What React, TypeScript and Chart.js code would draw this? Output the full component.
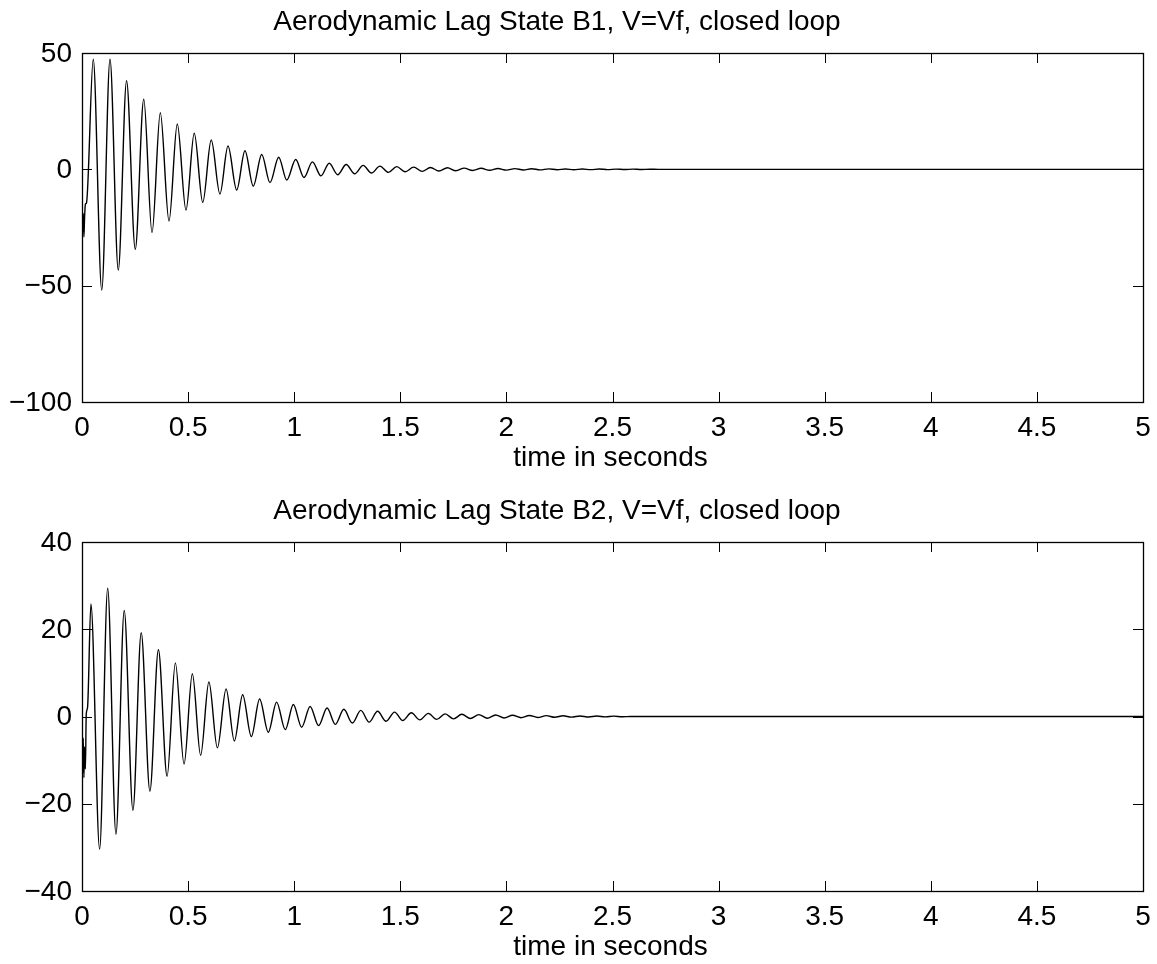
import React, { useEffect, useRef } from "react";
import { Chart, registerables } from "chart.js";

Chart.register(...registerables);

// ---------- data ----------
const xTickValues = [0, 0.5, 1, 1.5, 2, 2.5, 3, 3.5, 4, 4.5, 5];
const xTickLabels = ["0", "0.5", "1", "1.5", "2", "2.5", "3", "3.5", "4", "4.5", "5"];
const xAxisTitle = "time in seconds";

const b1Title = "Aerodynamic Lag State B1, V=Vf, closed loop";
const b1YTicks = [50, 0, -50, -100];
const b1YTickLabels = ["50", "0", "\u221250", "\u2212100"];
const b1Time = [
  0, 0.003, 0.006, 0.009, 0.012, 0.016, 0.021,
  0.053, 0.093, 0.132, 0.171, 0.21, 0.251, 0.291, 0.33, 0.369, 0.41,
  0.449, 0.49, 0.529, 0.569, 0.609, 0.65, 0.688, 0.729, 0.768, 0.807,
  0.847, 0.886, 0.927, 0.965, 1.007, 1.046, 1.086, 1.126, 1.165, 1.205,
  1.245, 1.285, 1.325, 1.364, 1.404, 1.444, 1.483, 1.523, 1.563, 1.603,
  1.642, 1.682, 1.722, 1.762, 1.801, 1.841, 1.881, 1.921, 1.96, 2.0,
  2.04, 2.08, 2.119, 2.159, 2.199, 2.239, 2.278, 2.318, 2.358, 2.398,
  2.437, 2.477, 2.517, 2.557, 2.596, 2.636, 2.676, 2.716, 5.0,
];
const b1Values = [
  -17, -27, -19, -29, -21, -15, -14.5,
  47.3, -51.9, 47.3, -43.3, 38.1, -34.4, 30.1, -27.2, 24.3, -22.2,
  19.5, -17.5, 15.5, -14.2, 12.6, -10.6, 10.0, -8.9, 8.0, -7.2,
  6.4, -5.7, 5.2, -4.6, 4.2, -3.5, 3.2, -2.8, 2.6, -2.3,
  2.1, -1.9, 1.7, -1.6, 1.4, -1.3, 1.15, -1.05, 0.95, -0.88,
  0.78, -0.72, 0.65, -0.6, 0.54, -0.5, 0.45, -0.41, 0.37, -0.34,
  0.31, -0.28, 0.26, -0.23, 0.21, -0.19, 0.17, -0.16, 0.14, -0.13,
  0.12, -0.11, 0.1, -0.09, 0.08, -0.07, 0.06, 0, 0,
];

const b2Title = "Aerodynamic Lag State B2, V=Vf, closed loop";
const b2YTicks = [40, 20, 0, -20, -40];
const b2YTickLabels = ["40", "20", "0", "\u221220", "\u221240"];
const b2Time = [
  0, 0.003, 0.006, 0.009, 0.012, 0.016, 0.02, 0.026,
  0.042, 0.083, 0.121, 0.16, 0.199, 0.24, 0.279, 0.32, 0.36, 0.401,
  0.44, 0.481, 0.52, 0.559, 0.598, 0.638, 0.679, 0.718, 0.757, 0.798,
  0.837, 0.878, 0.917, 0.958, 0.996, 1.035, 1.075, 1.115, 1.155, 1.194,
  1.234, 1.274, 1.314, 1.353, 1.393, 1.433, 1.473, 1.512, 1.552, 1.592,
  1.632, 1.671, 1.711, 1.751, 1.79, 1.83, 1.87, 1.91, 1.949, 1.989,
  2.029, 2.069, 2.108, 2.148, 2.188, 2.228, 2.267, 2.307, 2.347, 2.387,
  2.426, 2.466, 2.506, 2.546, 2.586, 5.0,
];
const b2Values = [
  -6, -13, -5, -14, -7, -12, 0.5, 2,
  25.8, -30.4, 29.4, -27.0, 24.3, -21.5, 19.2, -17.1, 15.3, -13.7,
  12.3, -10.9, 9.8, -8.9, 7.9, -7.2, 6.3, -5.6, 5.0, -4.6,
  4.0, -3.6, 3.3, -3.0, 2.75, -2.45, 2.3, -2.1, 1.95, -1.8,
  1.65, -1.5, 1.4, -1.3, 1.2, -1.1, 1.0, -0.92, 0.85, -0.78,
  0.72, -0.66, 0.6, -0.55, 0.5, -0.46, 0.42, -0.39, 0.35, -0.33,
  0.29, -0.27, 0.24, -0.22, 0.2, -0.18, 0.16, -0.15, 0.13, -0.12,
  0.1, -0.09, 0.08, -0.07, 0, 0,
];

// ---------- styling ----------
const FONT = '28px "Liberation Sans", Arial, Helvetica, sans-serif';
const TICK_LEN = 10;
const W = 1157;
const H = 482;
const TITLE_X = 557;

type PanelCfg = {
  title: string;
  time: number[];
  values: number[];
  yMin: number;
  yMax: number;
  yTicks: number[];
  yTickLabels: string[];
  padTop: number;
  padBottom: number;
};

function Panel({ cfg, top }: { cfg: PanelCfg; top: number }) {
  const ref = useRef<HTMLCanvasElement>(null);

  useEffect(() => {
    const canvas = ref.current;
    if (!canvas) return;

    const frame = {
      id: "matlabFrame",
      afterDraw(chart: any) {
        const { ctx, chartArea } = chart;
        const { left, top: t, right, bottom } = chartArea;
        const xs = chart.scales.x;
        const ys = chart.scales.y;
        ctx.save();
        ctx.strokeStyle = "#000";
        ctx.lineWidth = 1;
        ctx.beginPath();
        xTickValues.forEach((v) => {
          const px = Math.round(xs.getPixelForValue(v)) + 0.5;
          ctx.moveTo(px, bottom);
          ctx.lineTo(px, bottom - TICK_LEN);
          ctx.moveTo(px, t);
          ctx.lineTo(px, t + TICK_LEN);
        });
        cfg.yTicks.forEach((v) => {
          const py = Math.round(ys.getPixelForValue(v)) + 0.5;
          ctx.moveTo(left, py);
          ctx.lineTo(left + TICK_LEN, py);
          ctx.moveTo(right, py);
          ctx.lineTo(right - TICK_LEN, py);
        });
        ctx.stroke();
        ctx.lineWidth = 1.3;
        ctx.strokeRect(
          Math.round(left) + 0.5,
          Math.round(t) + 0.5,
          Math.round(right - left),
          Math.round(bottom - t)
        );

        ctx.fillStyle = "#000";
        ctx.font = FONT;
        ctx.textAlign = "center";
        ctx.textBaseline = "alphabetic";
        xTickValues.forEach((v, i) => {
          ctx.fillText(xTickLabels[i], xs.getPixelForValue(v), bottom + 34);
        });
        ctx.fillText(xAxisTitle, (left + right) / 2 - 2, bottom + 64);
        ctx.fillText(cfg.title, TITLE_X, t - 23);

        ctx.textAlign = "right";
        ctx.textBaseline = "middle";
        cfg.yTicks.forEach((v, i) => {
          ctx.fillText(cfg.yTickLabels[i], left - 10, ys.getPixelForValue(v) + 1);
        });
        ctx.restore();
      },
    };

    const chart = new Chart(canvas, {
      type: "line",
      data: {
        datasets: [
          {
            data: cfg.time.map((x, i) => ({ x, y: cfg.values[i] })),
            borderColor: "#000",
            borderWidth: 1.4,
            pointRadius: 0,
            fill: false,
            cubicInterpolationMode: "monotone",
          },
        ],
      },
      options: {
        responsive: false,
        animation: false,
        events: [],
        layout: {
          padding: { left: 82, right: 14, top: cfg.padTop, bottom: cfg.padBottom },
        },
        scales: {
          x: { type: "linear", min: 0, max: 5, display: false },
          y: { type: "linear", min: cfg.yMin, max: cfg.yMax, display: false },
        },
        plugins: {
          legend: { display: false },
          tooltip: { enabled: false },
          title: { display: false },
        },
      },
      plugins: [frame],
    } as any);

    return () => chart.destroy();
  }, [cfg]);

  return (
    <canvas
      ref={ref}
      width={W}
      height={H}
      style={{ position: "absolute", left: 0, top, width: W, height: H, display: "block" }}
    />
  );
}

const panel1: PanelCfg = {
  title: b1Title,
  time: b1Time,
  values: b1Values,
  yMin: -100,
  yMax: 50,
  yTicks: b1YTicks,
  yTickLabels: b1YTickLabels,
  padTop: 53,
  padBottom: 80,
};

const panel2: PanelCfg = {
  title: b2Title,
  time: b2Time,
  values: b2Values,
  yMin: -40,
  yMax: 40,
  yTicks: b2YTicks,
  yTickLabels: b2YTickLabels,
  padTop: 60,
  padBottom: 73,
};

export default function App() {
  return (
    <div
      style={{
        position: "absolute",
        left: 0,
        top: 0,
        width: W,
        height: 964,
        background: "#fff",
        overflow: "hidden",
      }}
    >
      <Panel cfg={panel1} top={0} />
      <Panel cfg={panel2} top={482} />
    </div>
  );
}
